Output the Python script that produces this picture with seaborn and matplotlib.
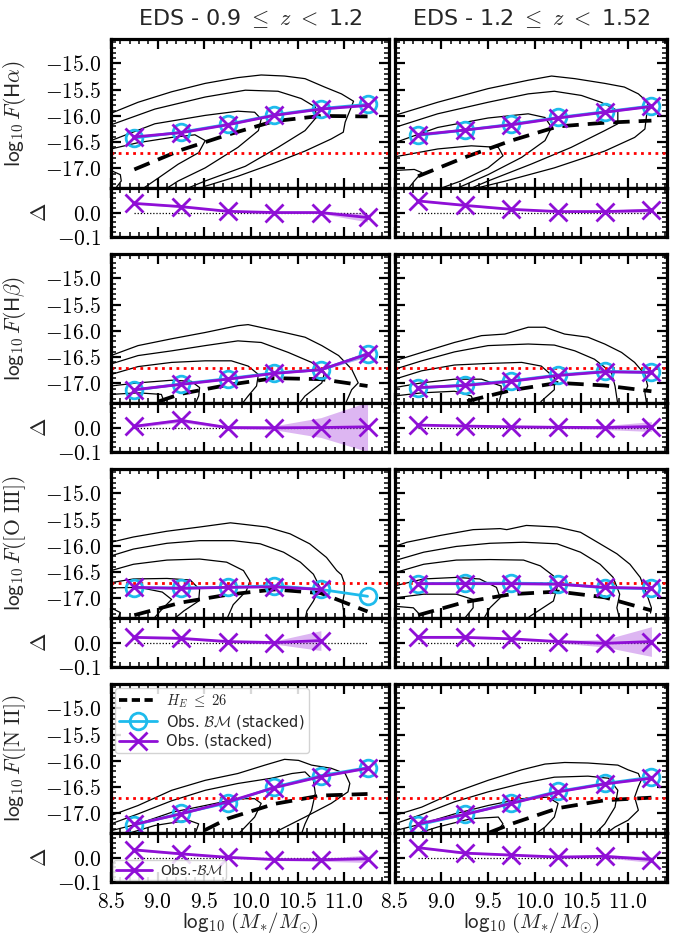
import numpy as np
import matplotlib
matplotlib.use("Agg")
import matplotlib.pyplot as plt
import seaborn as sns
from matplotlib.lines import Line2D
from matplotlib.ticker import MultipleLocator, FixedLocator, FuncFormatter

# ---------------- data ----------------
mass = [8.75, 9.25, 9.75, 10.25, 10.75, 11.25]
flux_limit = -16.7

col_titles = [r"EDS - 0.9 $\leq\ z\ <$ 1.2",
              r"EDS - 1.2 $\leq\ z\ <$ 1.52"]
row_labels = [r"$\mathsf{log}_{10}\,F(\mathsf{H}\alpha)$",
              r"$\mathsf{log}_{10}\,F(\mathsf{H}\beta)$",
              r"$\mathsf{log}_{10}\,F([\mathrm{O\ III}])$",
              r"$\mathsf{log}_{10}\,F([\mathrm{N\ II}])$"]
xlabel = r"$\mathsf{log}_{10}\ (M_{*}/M_{\odot})$"
main_yticks = [-17.0, -16.5, -16.0, -15.5, -15.0]
res_yticks = [-0.1, 0.0]

# H-alpha
ha_z1_obs = [-16.40, -16.32, -16.17, -15.99, -15.87, -15.80]
ha_z1_bm = [-16.42, -16.31, -16.16, -15.98, -15.86, -15.78]
ha_z1_sel = [-17.02, -16.65, -16.36, -16.10, -16.00, -16.01]
ha_z1_err = [0.01, 0.01, 0.01, 0.01, 0.01, 0.02]
ha_z1_res = [0.037, 0.024, 0.005, 0.0, 0.0, -0.02]
ha_z1_res_err = [0.003, 0.003, 0.003, 0.003, 0.004, 0.018]

ha_z2_obs = [-16.36, -16.27, -16.17, -16.04, -15.93, -15.82]
ha_z2_bm = [-16.37, -16.27, -16.16, -16.03, -15.92, -15.81]
ha_z2_sel = [-17.15, -16.79, -16.47, -16.20, -16.13, -16.09]
ha_z2_err = [0.01, 0.01, 0.01, 0.01, 0.01, 0.015]
ha_z2_res = [0.047, 0.029, 0.013, 0.004, 0.004, 0.009]
ha_z2_res_err = [0.003, 0.003, 0.003, 0.003, 0.004, 0.01]

# H-beta
hb_z1_obs = [-17.12, -17.02, -16.92, -16.81, -16.74, -16.44]
hb_z1_bm = [-17.13, -17.01, -16.91, -16.80, -16.74, -16.44]
hb_z1_sel = [-17.50, -17.20, -17.03, -16.90, -16.92, -17.05]
hb_z1_err = [0.01, 0.01, 0.01, 0.01, 0.015, 0.05]
hb_z1_res = [0.005, 0.029, 0.0, -0.001, 0.0, 0.003]
hb_z1_res_err = [0.006, 0.008, 0.005, 0.008, 0.04, 0.10]

hb_z2_obs = [-17.08, -17.04, -16.96, -16.85, -16.78, -16.79]
hb_z2_bm = [-17.09, -17.03, -16.95, -16.84, -16.77, -16.79]
hb_z2_sel = [-17.60, -17.35, -17.13, -16.99, -17.04, -17.15]
hb_z2_err = [0.01, 0.01, 0.01, 0.01, 0.01, 0.02]
hb_z2_res = [0.01, 0.006, 0.003, 0.001, 0.0, 0.004]
hb_z2_res_err = [0.004, 0.004, 0.004, 0.004, 0.008, 0.02]

# [O III]
o3_z1_obs = [-16.79, -16.81, -16.79, -16.78, -16.83, np.nan]
o3_z1_bm = [-16.80, -16.80, -16.79, -16.76, -16.83, -16.96]
o3_z1_sel = [-17.32, -17.08, -16.93, -16.83, -16.90, -17.25]
o3_z1_err = [0.01, 0.01, 0.01, 0.01, 0.015, np.nan]
o3_z1_res = [0.021, 0.017, 0.004, 0.0, 0.008, np.nan]
o3_z1_res_err = [0.004, 0.004, 0.004, 0.006, 0.04, np.nan]

o3_z2_obs = [-16.72, -16.72, -16.72, -16.73, -16.79, -16.81]
o3_z2_bm = [-16.72, -16.71, -16.71, -16.72, -16.80, -16.81]
o3_z2_sel = [-17.32, -17.07, -16.92, -16.87, -16.98, -17.23]
o3_z2_err = [0.01, 0.01, 0.01, 0.01, 0.01, 0.02]
o3_z2_res = [0.021, 0.021, 0.015, 0.004, -0.003, 0.004]
o3_z2_res_err = [0.004, 0.004, 0.004, 0.005, 0.015, 0.06]

# [N II]
n2_z1_obs = [-17.21, -17.01, -16.78, -16.51, -16.30, -16.14]
n2_z1_bm = [-17.22, -17.00, -16.80, -16.50, -16.28, -16.13]
n2_z1_sel = [-17.90, -17.55, -17.10, -16.82, -16.66, -16.63]
n2_z1_err = [0.01, 0.01, 0.01, 0.01, 0.01, 0.015]
n2_z1_res = [0.031, 0.015, 0.001, -0.008, -0.009, -0.005]
n2_z1_res_err = [0.004, 0.004, 0.004, 0.004, 0.006, 0.015]

n2_z2_obs = [-17.20, -17.02, -16.81, -16.59, -16.44, -16.33]
n2_z2_bm = [-17.22, -17.02, -16.80, -16.58, -16.43, -16.31]
n2_z2_sel = [-17.90, -17.55, -17.20, -16.90, -16.75, -16.70]
n2_z2_err = [0.01, 0.01, 0.01, 0.01, 0.01, 0.015]
n2_z2_res = [0.04, 0.018, 0.01, 0.002, 0.005, -0.008]
n2_z2_res_err = [0.004, 0.004, 0.004, 0.004, 0.006, 0.012]

# density contours ((log M, log F) vertices)
ha_z1_contours = [
    [(8.5, -15.95), (8.79, -15.74), (9.15, -15.54), (9.51, -15.38), (9.86, -15.27), (10.11, -15.22),
     (10.36, -15.24), (10.58, -15.29), (10.79, -15.45), (10.97, -15.58), (11.10, -15.72), (11.06, -15.90),
     (11.01, -16.12), (10.99, -16.31), (10.86, -16.44), (10.58, -16.67), (10.22, -16.92), (9.86, -17.15),
     (9.51, -17.34), (9.44, -17.40)],
    [(8.5, -16.17), (8.97, -15.87), (9.51, -15.64), (9.94, -15.51), (10.29, -15.53), (10.54, -15.67),
     (10.69, -15.83), (10.70, -16.03), (10.58, -16.28), (10.29, -16.60), (9.94, -16.96), (9.51, -17.24),
     (9.29, -17.40)],
    [(8.5, -16.47), (8.97, -16.15), (9.51, -15.99), (9.86, -15.91), (10.04, -15.93), (10.11, -16.06),
     (10.08, -16.28), (9.86, -16.60), (9.51, -16.99), (9.22, -17.24), (9.08, -17.40)],
    [(8.5, -16.63), (8.79, -16.51), (9.15, -16.41), (9.40, -16.36), (9.51, -16.47), (9.44, -16.70),
     (9.22, -16.92), (9.01, -17.18), (8.83, -17.40)],
    [(8.5, -17.04), (8.60, -17.12), (8.61, -17.24), (8.54, -17.40)],
]
ha_z2_contours = [
    [(8.5, -15.99), (8.96, -15.74), (9.5, -15.48), (9.93, -15.32), (10.18, -15.24), (10.43, -15.29),
     (10.75, -15.38), (10.96, -15.45), (11.11, -15.58), (11.21, -15.74), (11.20, -15.96), (11.18, -16.25),
     (11.07, -16.41), (10.75, -16.67), (10.21, -16.99), (9.69, -17.24), (9.32, -17.40)],
    [(8.5, -16.22), (8.96, -15.96), (9.5, -15.74), (9.93, -15.58), (10.21, -15.53), (10.5, -15.61),
     (10.71, -15.74), (10.89, -15.90), (10.89, -16.15), (10.75, -16.28), (10.39, -16.60), (9.96, -16.92),
     (9.5, -17.24), (9.29, -17.40)],
    [(8.5, -16.51), (8.96, -16.22), (9.5, -16.04), (9.93, -15.96), (10.11, -16.03), (10.18, -16.22),
     (10.11, -16.47), (9.86, -16.79), (9.5, -17.12), (9.14, -17.40)],
    [(8.5, -16.78), (8.96, -16.63), (9.32, -16.57), (9.61, -16.60), (9.66, -16.76), (9.5, -16.99),
     (9.21, -17.24), (8.96, -17.40)],
    [(8.5, -17.04), (8.71, -17.02), (8.79, -17.08), (8.71, -17.24), (8.64, -17.40)],
]
hb_z1_contours = [
    [(8.5, -16.47), (8.79, -16.28), (9.15, -16.15), (9.51, -16.03), (9.86, -15.90), (9.97, -15.88),
     (10.15, -15.95), (10.36, -16.03), (10.58, -16.12), (10.76, -16.28), (10.94, -16.47), (11.08, -16.73),
     (11.15, -16.99), (11.08, -17.12), (11.01, -17.40)],
    [(8.5, -16.63), (8.79, -16.47), (9.15, -16.38), (9.51, -16.28), (9.86, -16.19), (10.11, -16.22),
     (10.40, -16.41), (10.65, -16.60), (10.79, -16.79), (10.76, -16.99), (10.58, -17.24), (10.51, -17.40)],
    [(8.5, -16.83), (8.79, -16.68), (9.15, -16.60), (9.51, -16.57), (9.79, -16.57), (9.97, -16.67),
     (10.08, -16.83), (10.06, -17.05), (9.97, -17.24), (9.90, -17.40)],
    [(8.5, -17.05), (8.79, -16.99), (9.15, -16.94), (9.36, -16.96), (9.45, -17.08), (9.44, -17.24),
     (9.40, -17.40)],
    [(8.5, -17.21), (8.79, -17.18), (9.04, -17.21), (9.08, -17.40)],
]
hb_z2_contours = [
    [(8.5, -16.57), (8.79, -16.41), (9.14, -16.22), (9.43, -16.09), (9.68, -16.06), (9.93, -15.93),
     (10.11, -15.93), (10.32, -16.06), (10.57, -16.12), (10.75, -16.25), (10.93, -16.41), (11.07, -16.60),
     (11.18, -16.83), (11.21, -17.05), (11.18, -17.18), (11.20, -17.40)],
    [(8.5, -16.73), (8.79, -16.57), (9.14, -16.40), (9.5, -16.28), (9.93, -16.25), (10.21, -16.27),
     (10.43, -16.38), (10.64, -16.54), (10.82, -16.79), (10.86, -17.05), (10.89, -17.40)],
    [(8.5, -16.92), (8.79, -16.76), (9.14, -16.65), (9.5, -16.62), (9.86, -16.60), (10.07, -16.67),
     (10.21, -16.89), (10.21, -17.12), (10.07, -17.34), (10.05, -17.40)],
    [(8.5, -17.08), (8.79, -16.99), (9.14, -16.92), (9.43, -16.92), (9.64, -17.05), (9.64, -17.21),
     (9.61, -17.40)],
    [(8.5, -17.24), (8.79, -17.18), (9.14, -17.15), (9.32, -17.24), (9.36, -17.40)],
]
o3_z1_contours = [
    [(8.5, -15.93), (8.74, -15.83), (9.1, -15.72), (9.45, -15.64), (9.78, -15.56), (9.88, -15.58),
     (10.17, -15.64), (10.42, -15.77), (10.63, -15.96), (10.81, -16.22), (10.92, -16.47), (10.97, -16.55),
     (11.0, -16.70), (11.0, -16.92), (10.98, -17.10), (11.0, -17.30), (11.02, -17.40)],
    [(8.5, -16.19), (8.74, -16.06), (9.1, -15.95), (9.45, -15.90), (9.81, -15.90), (10.10, -15.96),
     (10.35, -16.12), (10.53, -16.31), (10.67, -16.54), (10.74, -16.79), (10.67, -17.05), (10.6, -17.24),
     (10.58, -17.40)],
    [(8.5, -16.47), (8.74, -16.35), (9.1, -16.27), (9.45, -16.25), (9.74, -16.31), (9.92, -16.47),
     (9.99, -16.67), (9.95, -16.86), (9.81, -17.12), (9.74, -17.40)],
    [(8.5, -16.70), (8.74, -16.63), (9.1, -16.62), (9.35, -16.65), (9.45, -16.83), (9.44, -17.05),
     (9.28, -17.24), (9.17, -17.40)],
    [(8.5, -16.80), (8.8, -16.79), (9.05, -16.88), (9.15, -17.02), (9.05, -17.20), (8.95, -17.40)],
    [(8.5, -17.18), (8.6, -17.27), (8.57, -17.40)],
]
o3_z2_contours = [
    [(8.5, -16.01), (8.63, -15.93), (8.99, -15.80), (9.34, -15.69), (9.63, -15.67), (9.70, -15.69),
     (9.91, -15.61), (10.24, -15.64), (10.49, -15.74), (10.70, -15.96), (10.88, -16.15), (11.02, -16.35),
     (11.13, -16.60), (11.2, -16.92), (11.25, -17.18), (11.24, -17.28)],
    [(8.5, -16.28), (8.81, -16.12), (9.16, -16.01), (9.52, -15.95), (9.88, -15.93), (10.24, -15.96),
     (10.49, -16.12), (10.70, -16.35), (10.84, -16.60), (10.91, -16.92), (10.88, -17.18), (10.91, -17.40)],
    [(8.5, -16.51), (8.81, -16.35), (9.16, -16.27), (9.52, -16.26), (9.88, -16.27), (10.06, -16.38),
     (10.20, -16.57), (10.24, -16.79), (10.20, -17.05), (9.95, -17.34), (9.91, -17.40)],
    [(8.5, -16.76), (8.81, -16.63), (9.16, -16.60), (9.41, -16.63), (9.59, -16.79), (9.63, -16.99),
     (9.52, -17.18), (9.45, -17.40)],
    [(8.5, -16.99), (8.81, -16.92), (9.16, -16.92), (9.34, -17.02), (9.34, -17.18), (9.24, -17.40)],
    [(8.5, -17.15), (8.7, -17.18), (8.77, -17.31), (8.75, -17.40)],
]
n2_z1_contours = [
    [(8.5, -17.04), (8.79, -16.85), (9.15, -16.56), (9.51, -16.37), (9.86, -16.24), (10.15, -16.08),
     (10.36, -15.97), (10.51, -15.99), (10.65, -16.08), (10.86, -16.14), (11.01, -16.24), (11.06, -16.43),
     (11.04, -16.59), (10.86, -16.81), (10.58, -17.07), (10.29, -17.33), (10.26, -17.40)],
    [(8.5, -17.20), (8.79, -17.01), (9.15, -16.76), (9.51, -16.56), (9.86, -16.43), (10.22, -16.33),
     (10.44, -16.24), (10.58, -16.21), (10.67, -16.37), (10.69, -16.62), (10.65, -16.94), (10.58, -17.20),
     (10.54, -17.40)],
    [(8.5, -17.33), (8.79, -17.20), (9.15, -16.98), (9.51, -16.85), (9.86, -16.72), (10.04, -16.72),
     (10.11, -16.81), (10.04, -17.07), (9.9, -17.33), (9.86, -17.40)],
    [(8.65, -17.40), (8.97, -17.23), (9.33, -17.13), (9.44, -17.20), (9.40, -17.40)],
]
n2_z2_contours = [
    [(8.5, -17.04), (8.79, -16.88), (9.14, -16.60), (9.5, -16.37), (9.86, -16.17), (10.11, -16.06),
     (10.32, -16.03), (10.57, -16.04), (10.89, -16.08), (11.0, -16.17), (11.11, -16.24), (11.14, -16.37),
     (11.11, -16.49), (11.07, -16.69), (11.11, -16.94), (11.0, -17.13), (10.86, -17.26), (10.75, -17.40)],
    [(8.5, -17.20), (8.79, -17.02), (9.14, -16.78), (9.5, -16.59), (9.86, -16.43), (10.21, -16.31),
     (10.57, -16.29), (10.79, -16.33), (10.89, -16.56), (10.86, -16.88), (10.75, -17.20), (10.64, -17.40)],
    [(8.5, -17.33), (8.79, -17.20), (9.14, -17.01), (9.5, -16.85), (9.86, -16.72), (10.14, -16.69),
     (10.25, -16.81), (10.21, -17.07), (10.11, -17.26), (10.0, -17.40)],
    [(8.71, -17.40), (8.96, -17.26), (9.32, -17.10), (9.61, -17.07), (9.66, -17.20), (9.57, -17.40)],
]

panels = [
    [(ha_z1_obs, ha_z1_bm, ha_z1_sel, ha_z1_err, ha_z1_res, ha_z1_res_err, ha_z1_contours),
     (ha_z2_obs, ha_z2_bm, ha_z2_sel, ha_z2_err, ha_z2_res, ha_z2_res_err, ha_z2_contours)],
    [(hb_z1_obs, hb_z1_bm, hb_z1_sel, hb_z1_err, hb_z1_res, hb_z1_res_err, hb_z1_contours),
     (hb_z2_obs, hb_z2_bm, hb_z2_sel, hb_z2_err, hb_z2_res, hb_z2_res_err, hb_z2_contours)],
    [(o3_z1_obs, o3_z1_bm, o3_z1_sel, o3_z1_err, o3_z1_res, o3_z1_res_err, o3_z1_contours),
     (o3_z2_obs, o3_z2_bm, o3_z2_sel, o3_z2_err, o3_z2_res, o3_z2_res_err, o3_z2_contours)],
    [(n2_z1_obs, n2_z1_bm, n2_z1_sel, n2_z1_err, n2_z1_res, n2_z1_res_err, n2_z1_contours),
     (n2_z2_obs, n2_z2_bm, n2_z2_sel, n2_z2_err, n2_z2_res, n2_z2_res_err, n2_z2_contours)],
]

# ---------------- style ----------------
sns.set_theme(style="ticks")
plt.rcParams["font.family"] = ["DejaVu Sans"]
plt.rcParams["mathtext.fontset"] = "cm"

PURPLE = "#8f0fd6"
CYAN = "#1ebbec"
MS_X, MS_O = 12.5, 12
W, H = 673, 938
fig = plt.figure(figsize=(W / 100, H / 100), dpi=100)

col_x = [(111.0, 389.0), (394.7, 667.3)]
col_xmax = [11.48, 11.42]
row_top = [39.3, 254.3, 469.3, 684.3]
main_h, res_h = 148.5, 49.5
main_ylim = (-17.37, -14.54)
res_ylim = (-0.1, 0.1)

fmt = FuncFormatter(lambda v, p: "$%.1f$" % v)


def rect(x0, x1, top, h):
    return [x0 / W, 1 - (top + h) / H, (x1 - x0) / W, h / H]


def style_axis(ax):
    for s in ax.spines.values():
        s.set_linewidth(2.3)
        s.set_color("black")
    ax.tick_params(which="both", direction="in", top=True, right=True,
                   bottom=True, left=True, colors="black")
    ax.tick_params(which="major", length=7, width=1.6, labelsize=15.5, pad=7)
    ax.tick_params(which="minor", length=3.6, width=1.1)
    ax.xaxis.set_major_locator(MultipleLocator(0.5))
    ax.xaxis.set_minor_locator(MultipleLocator(0.1))
    ax.xaxis.set_major_formatter(fmt)
    ax.yaxis.set_major_formatter(fmt)


for r in range(4):
    for c in range(2):
        obs, bm, sel, err, res, res_err, contours = panels[r][c]
        x0, x1 = col_x[c]
        ax = fig.add_axes(rect(x0, x1, row_top[r], main_h))
        axr = fig.add_axes(rect(x0, x1, row_top[r] + main_h, res_h))
        for a in (ax, axr):
            style_axis(a)
            a.set_xlim(8.5, col_xmax[c])

        # contours
        for cont in contours:
            cx = [p[0] for p in cont]
            cy = [p[1] for p in cont]
            ax.plot(cx, cy, color="black", lw=0.9, zorder=1)
        # selection-limited prediction
        sns.lineplot(x=mass, y=sel, ax=ax, color="black", lw=2.7,
                     zorder=2, legend=False)
        ax.lines[-1].set_dashes((4.4, 2.4))
        ax.axhline(flux_limit, color="red", ls=(0, (1, 1.6)), lw=2.0, zorder=2)
        # observations
        obs_a = np.array(obs, float)
        bm_a = np.array(bm, float)
        err_a = np.array(err, float)
        ax.fill_between(mass, bm_a - err_a, bm_a + err_a, color=CYAN, alpha=0.35, lw=0, zorder=3)
        ax.fill_between(mass, obs_a - err_a, obs_a + err_a, color=PURPLE, alpha=0.3, lw=0, zorder=3)
        sns.lineplot(x=mass, y=bm, ax=ax, color=CYAN, lw=2.0, marker="o", markersize=MS_O,
                     markerfacecolor="none", markeredgecolor=CYAN, markeredgewidth=2.0,
                     zorder=4, legend=False)
        sns.lineplot(x=mass, y=obs, ax=ax, color=PURPLE, lw=2.0, marker="x", markersize=MS_X,
                     markeredgecolor=PURPLE, markeredgewidth=2.0, zorder=5, legend=False)
        ax.set_ylim(*main_ylim)
        ax.yaxis.set_major_locator(FixedLocator(main_yticks))
        ax.yaxis.set_minor_locator(MultipleLocator(0.1))
        ax.set_xlabel("")
        ax.set_ylabel("")
        ax.tick_params(labelbottom=False)

        # residuals
        res_a = np.array(res, float)
        rerr = np.array(res_err, float)
        axr.plot([mass[0], mass[-1]], [0, 0], color="black", lw=0.9, ls=(0, (1, 1.5)), zorder=1)
        axr.fill_between(mass, res_a - rerr, res_a + rerr, color=PURPLE, alpha=0.3, lw=0, zorder=2)
        sns.lineplot(x=mass, y=res, ax=axr, color=PURPLE, lw=2.0, marker="x", markersize=MS_X,
                     markeredgecolor=PURPLE, markeredgewidth=2.0, zorder=5, legend=False)
        axr.set_ylim(*res_ylim)
        axr.yaxis.set_major_locator(FixedLocator(res_yticks))
        axr.yaxis.set_minor_locator(MultipleLocator(0.02))
        axr.set_ylabel("")
        axr.set_xlabel("")

        if c == 0:
            ax.set_ylabel(row_labels[r], fontsize=15.5)
            ax.yaxis.set_label_coords(-0.30, 0.5)
            axr.set_ylabel(r"$\Delta$", fontsize=16, rotation=90)
            axr.yaxis.set_label_coords(-0.22, 0.5)
        else:
            ax.tick_params(labelleft=False)
            axr.tick_params(labelleft=False)

        if r == 3:
            axr.set_xlabel(xlabel, fontsize=15, labelpad=-1)
        else:
            axr.tick_params(labelbottom=False)

        if r == 3 and c == 0:
            handles = [
                Line2D([], [], color="black", lw=2.7, dashes=(2.2, 1.2)),
                Line2D([], [], color=CYAN, lw=2.0, marker="o", markersize=MS_O,
                       markerfacecolor="none", markeredgewidth=2.0),
                Line2D([], [], color=PURPLE, lw=2.0, marker="x", markersize=MS_X,
                       markeredgewidth=2.0),
            ]
            labels = [r"$H_E\ \leq\ 26$", r"Obs. $\mathcal{BM}$ (stacked)", "Obs. (stacked)"]
            leg = ax.legend(handles, labels, loc="upper left", fontsize=10.5, frameon=True,
                            handlelength=2.6, borderaxespad=0.25, labelspacing=0.2,
                            borderpad=0.3, handletextpad=0.6, framealpha=0.85)
            leg.get_frame().set_edgecolor("#cccccc")
            rh = [Line2D([], [], color=PURPLE, lw=2.0, marker="x", markersize=MS_X,
                         markeredgewidth=2.0)]
            leg2 = axr.legend(rh, [r"Obs.-$\mathcal{BM}$"], loc="lower left", fontsize=10,
                              frameon=True, handlelength=2.6, borderaxespad=0.15,
                              borderpad=0.2, handletextpad=0.6, framealpha=0.85)
            leg2.get_frame().set_edgecolor("#cccccc")

for c in range(2):
    x0, x1 = col_x[c]
    fig.text((x0 + x1) / 2 / W, 1 - 18 / H, col_titles[c], ha="center", va="center", fontsize=16)

fig.savefig("out.png", dpi=100)
